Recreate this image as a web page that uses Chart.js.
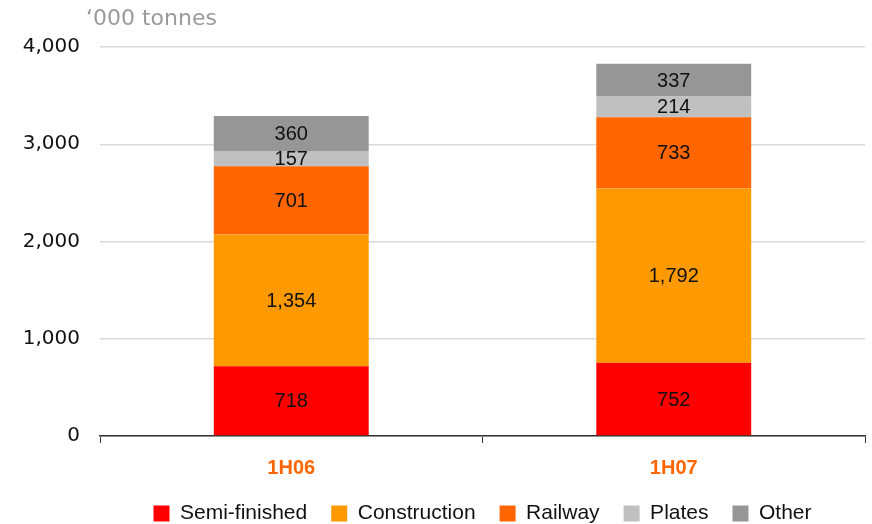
<!DOCTYPE html>
<html>
<head>
<meta charset="utf-8">
<script src="https://cdn.jsdelivr.net/npm/chart.js@4"></script>
<style>
  html, body { margin: 0; padding: 0; background: #fff; }
  #wrap { width: 872px; height: 524px; position: relative; }
</style>
</head>
<body>
<div id="wrap"><canvas id="prodChart" width="872" height="524"></canvas></div>
<script>
const periods = ['1H06', '1H07'];
const semiFinished = [718, 752];
const construction = [1354, 1792];
const railway = [701, 733];
const plates = [157, 214];
const other = [360, 337];
const yTicks = [0, 1000, 2000, 3000, 4000];

const fmt = v => v.toLocaleString('en-US');

// writes each segment's value in the middle of its bar piece
const segmentLabels = {
  id: 'segmentLabels',
  afterDatasetsDraw(chart) {
    const ctx = chart.ctx;
    ctx.save();
    ctx.font = '20px "Liberation Sans", Arial, sans-serif';
    ctx.fillStyle = '#111';
    ctx.textAlign = 'center';
    ctx.textBaseline = 'middle';
    chart.data.datasets.forEach((ds, i) => {
      chart.getDatasetMeta(i).data.forEach((bar, j) => {
        ctx.fillText(fmt(ds.data[j]), bar.x, (bar.y + bar.base) / 2 + 1);
      });
    });
    ctx.restore();
  }
};

// unit caption above the value axis
const unitCaption = {
  id: 'unitCaption',
  afterDraw(chart) {
    const ctx = chart.ctx;
    ctx.save();
    ctx.font = '22px "DejaVu Sans", sans-serif';
    ctx.fillStyle = '#9a9a9a';
    ctx.textAlign = 'left';
    ctx.textBaseline = 'middle';
    ctx.fillText('\u2018000 tonnes', 86, 19);
    ctx.restore();
  }
};

const ctx = document.getElementById('prodChart').getContext('2d');
new Chart(ctx, {
  type: 'bar',
  data: {
    labels: periods,
    datasets: [
      { label: 'Semi-finished', data: semiFinished, backgroundColor: '#FF0000' },
      { label: 'Construction', data: construction, backgroundColor: '#FF9900' },
      { label: 'Railway', data: railway, backgroundColor: '#FF6600' },
      { label: 'Plates', data: plates, backgroundColor: '#C0C0C0' },
      { label: 'Other', data: other, backgroundColor: '#969696' }
    ]
  },
  options: {
    responsive: false,
    animation: false,
    layout: { padding: { top: 47, right: 7, left: 0, bottom: -10 } },
    datasets: {
      bar: { barPercentage: 0.405, categoryPercentage: 1.0 }
    },
    scales: {
      x: {
        stacked: true,
        afterFit(axis) { axis.height = 43; },
        grid: {
          offset: true,
          drawOnChartArea: false,
          drawTicks: true,
          tickLength: 7,
          color: '#333'
        },
        border: { display: true, color: '#333', width: 1.5 },
        ticks: {
          padding: 13,
          color: '#FF6600',
          font: { family: '"Liberation Sans", Arial, sans-serif', size: 20, weight: 'bold' }
        }
      },
      y: {
        stacked: true,
        min: 0,
        max: 4000,
        afterBuildTicks(axis) { axis.ticks = yTicks.map(v => ({ value: v })); },
        afterFit(axis) { axis.width = 100; },
        grid: { color: '#d9d9d9', lineWidth: 1.5, drawTicks: false },
        border: { display: false },
        ticks: {
          padding: 20,
          color: '#111',
          font: { family: '"DejaVu Sans", sans-serif', size: 20 },
          callback: v => fmt(v)
        }
      }
    },
    plugins: {
      legend: {
        position: 'bottom',
        fullSize: false,
        labels: {
          boxWidth: 16,
          boxHeight: 16,
          padding: 24,
          color: '#111',
          font: { family: '"Liberation Sans", Arial, sans-serif', size: 21 }
        }
      },
      tooltip: { enabled: false }
    }
  },
  plugins: [segmentLabels, unitCaption]
});
</script>
</body>
</html>
